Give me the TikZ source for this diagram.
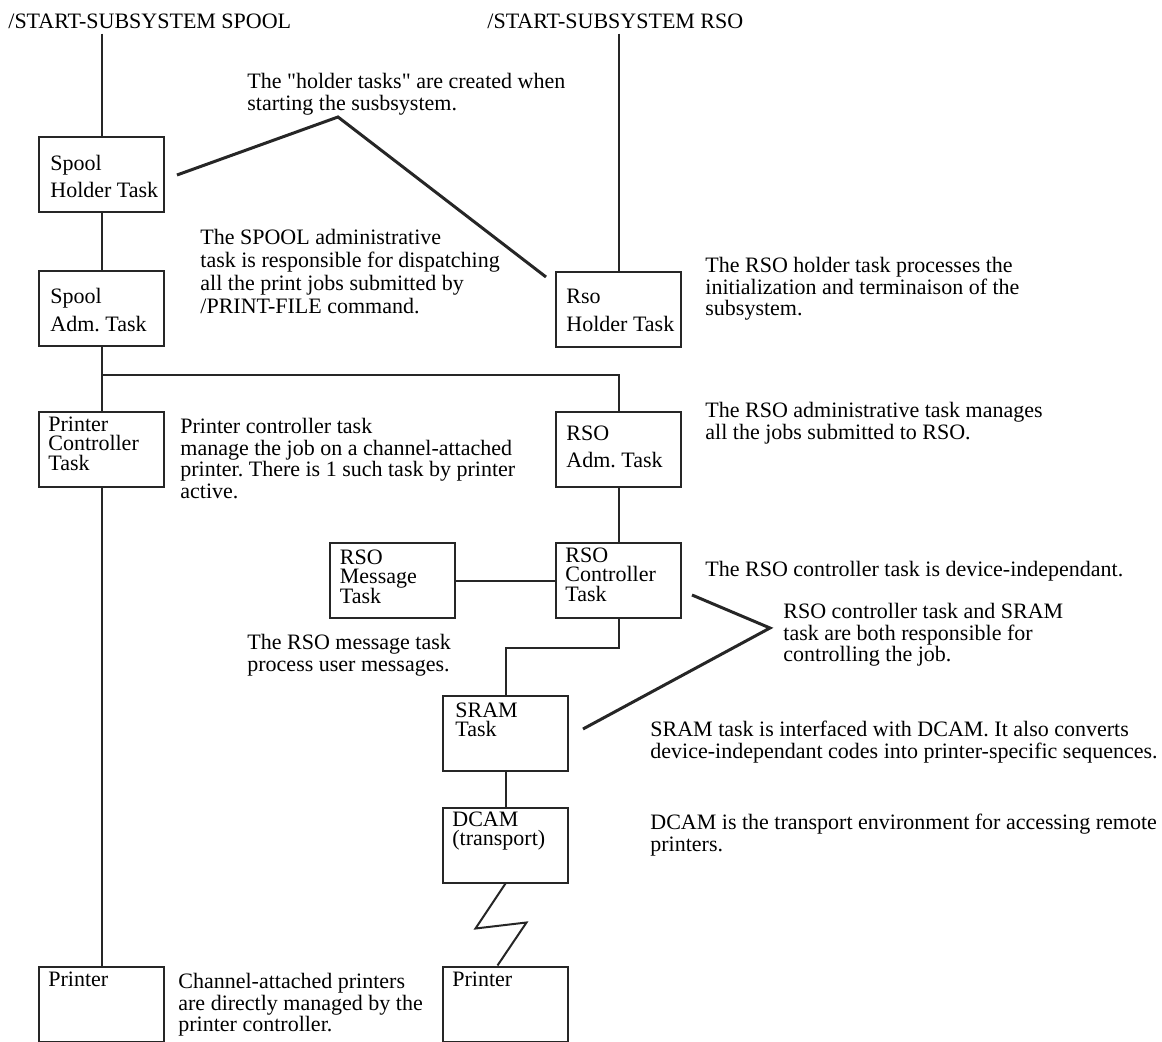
\documentclass[tikz,border=0pt]{standalone}
\usepackage{fontspec}
\setmainfont{Liberation Serif}
\usetikzlibrary{positioning}
\frenchspacing
\def\notefont{\fontsize{11}{10.75}\selectfont\lineskiplimit=-6pt}
\def\widefont{\fontsize{11}{11.5}\selectfont\lineskiplimit=-6pt}
\def\loosefont{\fontsize{11}{13.75}\selectfont\lineskiplimit=-6pt}
\def\tightfont{\fontsize{11}{9.75}\selectfont\lineskiplimit=-6pt}
\colorlet{line ink}{black!85}
\tikzset{task/.style={draw=line ink, line width=1pt, minimum width=62.5pt, minimum height=37.5pt, inner sep=0pt},
	loose/.style={anchor=north west, inner sep=0pt, align=left, font=\loosefont},
	tight/.style={anchor=north west, inner sep=0pt, align=left, font=\tightfont},
	note/.style={anchor=north west, inner sep=0pt, align=left, font=\notefont},
	widenote/.style={note, font=\widefont},
	link/.style={draw=line ink, line width=1pt},
	pointer/.style={draw=line ink, line width=1.5pt}}

\begin{document}
\begin{tikzpicture}[x=0.5pt, y=-0.5pt]
		\useasboundingbox (0,0) rectangle (1162,1042);
		\node[note] (spooltitle) at (8,14) {/START-SUBSYSTEM SPOOL};
		\node[note] (rsotitle) at (487,14) {/START-SUBSYSTEM RSO};
		
		\node[task] (spoolhold) at (101.5,175) {};
		\node[task] (spooladm) at (101.5,308.5) {};
		\node[task] (prtctrl) at (101.5,450) {};
		\node[task] (spoolprt) at (101.5,1004) {};
		\node[task] (rsohold) at (618.5,309.5) {};
		\node[task] (rsoadm) at (618.5,450) {};
		\node[task] (rsoctrl) at (618.5,581) {};
		\node[task] (rsomsg) at (392,581) {};
		\node[task] (sram) at (505.5,733) {};
		\node[task] (dcam) at (505.5,845) {};
		\node[task] (rsoprt) at (505.5,1004) {};
		
		\node[loose] (spoolholdtx) at ([shift={(12,18)}]spoolhold.north west) {Spool\\Holder Task};
		\node[loose] (spooladmtx) at ([shift={(12,18)}]spooladm.north west) {Spool\\Adm. Task};
		\node[tight] (prtctrltx) at ([shift={(10,5)}]prtctrl.north west) {Printer\\Controller\\Task};
		\node[tight] (spoolprttx) at ([shift={(10,6)}]spoolprt.north west) {Printer};
		\node[loose] (rsoholdtx) at ([shift={(11,18)}]rsohold.north west) {Rso\\Holder Task};
		\node[loose] (rsoadmtx) at ([shift={(11,14)}]rsoadm.north west) {RSO\\Adm. Task};
		\node[tight] (rsoctrltx) at ([shift={(10,5)}]rsoctrl.north west) {RSO\\Controller\\Task};
		\node[tight] (rsomsgtx) at ([shift={(11,7)}]rsomsg.north west) {RSO\\Message\\Task};
		\node[tight] (sramtx) at ([shift={(13,8)}]sram.north west) {SRAM\\Task};
		\node[tight] (dcamtx) at ([shift={(10,5)}]dcam.north west) {DCAM\\(transport)};
		\node[tight] (rsoprttx) at ([shift={(10,6)}]rsoprt.north west) {Printer};
		
		\node[note] (holdnote) at (247,73) {The \textquotedbl holder tasks\textquotedbl\ are created when\\starting the susbsystem.};
		\node[widenote] (spoolnote) at (200,229) {The SPOOL administrative\\task is responsible for dispatching\\all the print jobs submitted by\\/PRINT-FILE command.};
		\node[note] (rsoholdnote) at (705,257) {The RSO holder task processes the\\initialization and terminaison of the\\subsystem.};
		\node[note] (rsoadmnote) at (705,402) {The RSO administrative task manages\\all the jobs submitted to RSO.};
		\node[note] (prtctrlnote) at (180,418) {Printer controller task\\manage the job on a channel-attached\\printer. There is 1 such task by printer\\active.};
		\node[note] (rsoctrlnote) at (705,561) {The RSO controller task is device-independant.};
		\node[note] (rsomsgnote) at (247,634) {The RSO message task\\process user messages.};
		\node[note] (bothnote) at (783,603) {RSO controller task and SRAM\\task are both responsible for\\controlling the job.};
		\node[note] (sramnote) at (650,721) {SRAM task is interfaced with DCAM. It also converts\\device-independant codes into printer-specific sequences.};
		\node[note] (dcamnote) at (650,814) {DCAM is the transport environment for accessing remote\\printers.};
		\node[note] (channelnote) at (178,973) {Channel-attached printers\\are directly managed by the\\printer controller.};
		
		\coordinate (bar) at (0,375);
		\coordinate (holdpeak) at (338,117);
		\coordinate (bothtip) at (770,628);
		
		\draw[link] ([yshift=-2pt]spooltitle.south -| spoolhold.north) -- (spoolhold.north);
		\draw[link] ([yshift=-2pt]rsotitle.south -| rsohold.north) -- (rsohold.north);
		\draw[link] (spoolhold) -- (spooladm);
		\draw[link] (spooladm.south) -- (prtctrl.north);
		\draw[link] (spooladm.south |- bar) -| (rsoadm.north);
		\draw[link] (prtctrl) -- (spoolprt);
		\draw[link] (rsoadm) -- (rsoctrl);
		\draw[link] (rsomsg) -- (rsoctrl);
		\draw[link] (rsoctrl.south) -- ++(0,29) -| (sram.north);
		\draw[link] (sram) -- (dcam);
		\draw[link] (dcam.south) -- ++(-30,45) -- ++(51,-6) -- ([xshift=-4pt]rsoprt.north);
		
		\draw[pointer] ([shift={(12,0)}]spoolhold.east) -- (holdpeak) -- ([shift={(-9,6)}]rsohold.north west);
		\draw[pointer] ([shift={(10,14)}]rsoctrl.east) -- (bothtip) -- ([shift={(14,-4)}]sram.east);
\end{tikzpicture}
\end{document}
